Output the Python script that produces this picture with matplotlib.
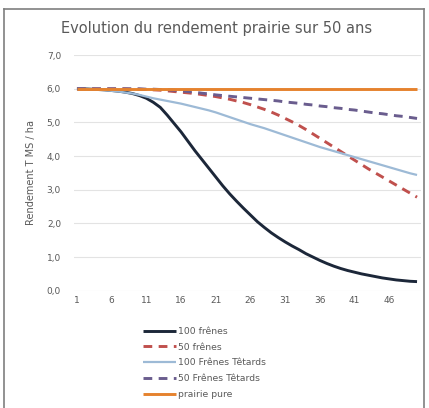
import numpy as np
import matplotlib.pyplot as plt
from matplotlib.lines import Line2D

# annees 1 a 50
annees = list(range(1, 51))

cent_frenes = [6.00, 6.00, 5.99, 5.98, 5.97, 5.95, 5.93, 5.90, 5.86, 5.80,
               5.72, 5.60, 5.45, 5.22, 4.97, 4.72, 4.44, 4.16, 3.90, 3.64,
               3.38, 3.12, 2.88, 2.66, 2.45, 2.25, 2.05, 1.88, 1.72, 1.58,
               1.45, 1.33, 1.22, 1.10, 1.00, 0.90, 0.81, 0.73, 0.66, 0.60,
               0.55, 0.50, 0.46, 0.42, 0.38, 0.35, 0.32, 0.30, 0.28, 0.27]

cinquante_frenes = [6.00, 6.00, 6.00, 6.00, 6.00, 6.00, 6.00, 6.00, 5.99, 5.99,
                    5.98, 5.97, 5.96, 5.94, 5.92, 5.90, 5.88, 5.86, 5.83, 5.80,
                    5.77, 5.73, 5.69, 5.64, 5.59, 5.53, 5.46, 5.39, 5.31, 5.22,
                    5.12, 5.02, 4.91, 4.79, 4.66, 4.53, 4.40, 4.27, 4.14, 4.01,
                    3.88, 3.75, 3.62, 3.50, 3.38, 3.26, 3.14, 3.02, 2.90, 2.78]

cent_tetards = [6.00, 6.00, 5.99, 5.98, 5.96, 5.94, 5.92, 5.89, 5.86, 5.82,
                5.77, 5.72, 5.68, 5.64, 5.60, 5.56, 5.51, 5.46, 5.41, 5.36,
                5.30, 5.23, 5.16, 5.09, 5.02, 4.95, 4.89, 4.83, 4.76, 4.69,
                4.62, 4.55, 4.48, 4.41, 4.34, 4.27, 4.21, 4.15, 4.09, 4.03,
                3.97, 3.91, 3.85, 3.79, 3.73, 3.67, 3.61, 3.55, 3.49, 3.44]

cinquante_tetards = [6.00, 6.00, 6.00, 6.00, 6.00, 6.00, 6.00, 6.00, 6.00, 6.00,
                     5.99, 5.99, 5.98, 5.97, 5.96, 5.94, 5.92, 5.90, 5.87, 5.85,
                     5.82, 5.80, 5.78, 5.76, 5.74, 5.72, 5.70, 5.68, 5.66, 5.64,
                     5.61, 5.59, 5.57, 5.54, 5.52, 5.49, 5.47, 5.44, 5.42, 5.39,
                     5.37, 5.34, 5.31, 5.28, 5.26, 5.23, 5.20, 5.18, 5.15, 5.12]

prairie_pure = [6.0] * 50

labels = ['100 frênes', '50 frênes', '100 Frênes Têtards', '50 Frênes Têtards', 'prairie pure']
couleurs = ['#1c2739', '#c0504d', '#9dbad6', '#6a5d8e', '#e5822e']

xticks = [1, 6, 11, 16, 21, 26, 31, 36, 41, 46]
yticks = [0, 1, 2, 3, 4, 5, 6, 7]

gris = '#595959'

fig = plt.figure(figsize=(4.29, 4.08), dpi=100)
ax = fig.add_axes([73.5 / 429, 1 - 290.7 / 408, 347 / 429, (290.7 - 55.2) / 408])

series = [cent_frenes, cinquante_frenes, cent_tetards, cinquante_tetards, prairie_pure]
styles = [dict(lw=2.1), dict(lw=2.1, dashes=(3, 2.2)), dict(lw=1.6),
          dict(lw=2.1, dashes=(3, 2.2)), dict(lw=2.1)]
handles = []
for s, lab, c, st in zip(series, labels, couleurs, styles):
    h, = ax.plot(annees, s, color=c, label=lab, solid_capstyle='butt', **st)
    handles.append(h)

ax.set_xlim(0.5, 50.5)
ax.set_ylim(0, 7)
ax.set_xticks(xticks)
ax.set_yticks(yticks)
ax.set_yticklabels([f'{v:.1f}'.replace('.', ',') for v in yticks])
ax.tick_params(length=0, labelsize=6.5, labelcolor=gris, pad=9)
ax.tick_params(axis='x', pad=4)
ax.grid(axis='y', color='#e3e3e3', lw=0.8)
ax.set_axisbelow(True)
for sp in ax.spines.values():
    sp.set_visible(False)

ax.set_ylabel('Rendement T MS / ha', fontsize=7, color=gris, labelpad=8)
fig.text(217 / 429, 1 - 28 / 408, 'Evolution du rendement prairie sur 50 ans',
         fontsize=10.5, color=gris, ha='center', va='center')

fig.legend(handles=handles, loc='upper left', bbox_to_anchor=(143 / 429, 1 - 327 / 408),
           frameon=False, fontsize=6.7, handlelength=3.5, handletextpad=0.3,
           labelspacing=0.72, borderpad=0, borderaxespad=0, labelcolor=gris)

# cadre
for xs, ys in [([4, 4], [9, 408]), ([4, 424], [9, 9]), ([424, 424], [9, 408])]:
    fig.add_artist(Line2D([x / 429 for x in xs], [1 - y / 408 for y in ys],
                          color='#7f7f7f', lw=1.2))

fig.savefig('out.png', dpi=100)
